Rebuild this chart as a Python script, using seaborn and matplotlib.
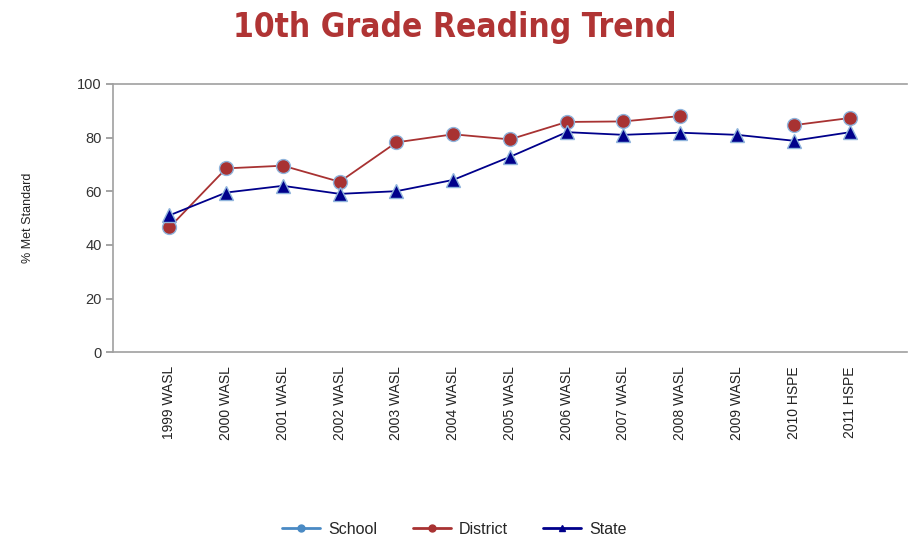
import numpy as np
import pandas as pd
import matplotlib
matplotlib.use("Agg")
import matplotlib.pyplot as plt
from matplotlib.lines import Line2D
import seaborn as sns

years = ["1999 WASL", "2000 WASL", "2001 WASL", "2002 WASL", "2003 WASL", "2004 WASL",
         "2005 WASL", "2006 WASL", "2007 WASL", "2008 WASL", "2009 WASL", "2010 HSPE", "2011 HSPE"]
school = [np.nan] * 13
district = [46.5, 68.5, 69.5, 63.5, 78.2, 81.2, 79.3, 85.8, 86.0, 88.0, np.nan, 84.6, 87.3]
state = [51.0, 59.5, 62.0, 59.0, 60.0, 64.2, 72.8, 82.0, 81.0, 81.8, 81.0, 78.8, 82.0]

series_names = ["School", "District", "State"]
colors = {"School": "#4a8ac4", "District": "#a83232", "State": "#00008b"}
markers = {"School": "o", "District": "o", "State": "^"}

sns.set_theme(style="white")
plt.rcParams["font.family"] = ["Liberation Sans", "DejaVu Sans"]

# split each series into runs of non-missing points so gaps stay open
rows = []
for name, vals in zip(series_names, [school, district, state]):
    seg = 0
    for i, v in enumerate(vals):
        if np.isnan(v):
            seg += 1
            continue
        rows.append({"series": name, "pos": i, "value": v, "seg": f"{name}{seg}"})
df = pd.DataFrame(rows)

fig = plt.figure(figsize=(9.09, 5.41), dpi=100)
ax = fig.add_axes([0.124, 0.349, 0.874, 0.496])

sns.lineplot(data=df, x="pos", y="value", hue="series", style="series", units="seg",
             estimator=None, palette=colors, markers=markers, dashes=False,
             markersize=10, markeredgecolor="#8fb4dc", markeredgewidth=1,
             linewidth=1.3, legend=False, ax=ax, zorder=3)

ax.set_xlim(-1, 13)
ax.set_ylim(0, 100)
ax.set_yticks([0, 20, 40, 60, 80, 100])
ax.set_xticks(range(len(years)))
ax.set_xticklabels(years, rotation=90, fontsize=10, color="#222222")
ax.set_xticks(range(1, len(years), 2), minor=True)
ax.tick_params(axis="x", which="major", length=0, pad=10)
ax.tick_params(axis="x", which="minor", bottom=True, length=4, color="#999999", width=1)
ax.tick_params(axis="y", left=True, length=5, color="#999999", labelsize=10.5,
               labelcolor="#333333", pad=3)
ax.set_xlabel("")
ax.set_ylabel("% Met Standard", fontsize=9, color="#222222", labelpad=31)

for s in ["left", "bottom", "top"]:
    ax.spines[s].set_color("#a0a0a0")
    ax.spines[s].set_linewidth(1.2)
ax.spines["right"].set_visible(False)

fig.text(0.5, 0.95, "10th Grade Reading Trend", ha="center", va="center",
         fontsize=24, fontweight="bold", fontstretch="condensed", color="#b03434",
         family=["DejaVu Sans"])

handles = [Line2D([0], [0], color=colors[n], marker=markers[n],
                  markersize=5, linewidth=2) for n in series_names]
fig.legend(handles, series_names, loc="center", bbox_to_anchor=(0.5, 0.022), ncol=3,
           frameon=False, fontsize=11.5, handlelength=2.4, columnspacing=2.2,
           handletextpad=0.5)

fig.savefig("out.png", dpi=100)
